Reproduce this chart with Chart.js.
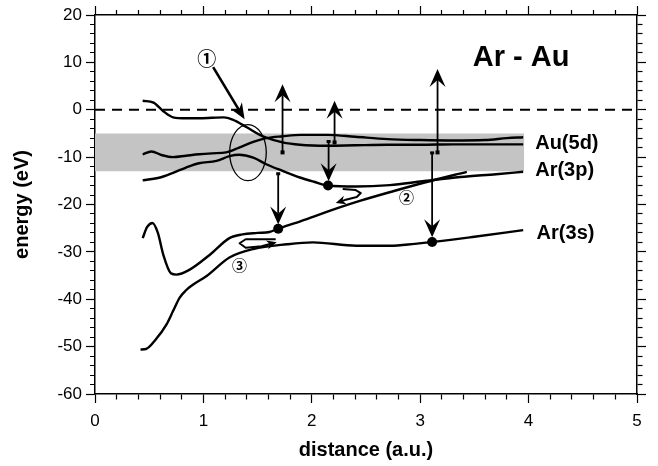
<!DOCTYPE html>
<html>
<head>
<meta charset="utf-8">
<script src="https://cdn.jsdelivr.net/npm/chart.js@4.4.0/dist/chart.umd.min.js"></script>
<style>
  html, body { margin: 0; padding: 0; background: #fff; }
  canvas { display: block; }
</style>
</head>
<body>
<canvas id="chart" width="658" height="466"></canvas>
<script>
// ── Axis ticks ───────────────────────────────────────
const xTickLabels = ['0', '1', '2', '3', '4', '5'];
const yTickLabels = ['-60', '-50', '-40', '-30', '-20', '-10', '0', '10', '20'];

// ── Au(5d) band and vacuum level ─────────────────────
const bandX      = [0, 3.96];
const bandTop    = [-5, -5];
const bandBottom = [-13, -13];
const zeroX = [0, 5];
const zeroY = [0, 0];

// ── Level curves ─────────────────────────────────────
const curveAX = [0.44, 0.54, 0.63, 0.72, 0.84, 0.96, 1.08, 1.19, 1.27, 1.40, 1.52, 1.58, 1.73, 1.89, 2.15, 2.40, 2.70, 3.00, 3.30, 3.60, 3.95];
const curveAY = [1.9, 1.5, -0.3, -1.6, -1.8, -1.8, -1.7, -1.6, -2.1, -3.7, -5.3, -5.9, -6.9, -7.4, -7.6, -7.5, -7.4, -7.4, -7.3, -7.3, -7.3];

const curveBX = [0.44, 0.52, 0.62, 0.72, 0.84, 0.96, 1.08, 1.21, 1.33, 1.46, 1.58, 1.73, 1.90, 2.15, 2.40, 2.70, 3.00, 3.30, 3.60, 3.80, 3.95];
const curveBY = [-9.4, -8.8, -9.6, -10.0, -9.7, -9.4, -9.2, -9.0, -8.0, -6.8, -6.0, -5.6, -5.3, -5.3, -5.7, -6.2, -6.4, -6.5, -6.4, -6.0, -5.8];

const curveCX = [0.44, 0.60, 0.72, 0.84, 0.96, 1.12, 1.24, 1.33, 1.46, 1.58, 1.73, 1.89, 2.02, 2.15, 2.41, 2.72, 3.02, 3.37, 3.70, 3.95];
const curveCY = [-14.9, -14.3, -13.3, -12.2, -11.3, -10.8, -9.8, -9.5, -10.1, -11.5, -12.9, -14.3, -15.2, -16.0, -16.2, -15.9, -15.1, -14.2, -13.6, -13.1];

const curveDX = [0.44, 0.48, 0.53, 0.58, 0.63, 0.70, 0.75, 0.87, 1.06, 1.24, 1.36, 1.50, 1.61, 1.69, 1.90, 2.17, 2.45, 2.75, 3.05, 3.43];
const curveDY = [-27.1, -24.8, -23.9, -26.0, -30.6, -34.5, -34.8, -33.8, -30.6, -27.1, -26.3, -26.0, -25.8, -25.1, -23.5, -21.3, -19.2, -17.2, -15.3, -13.1];

const curveFX = [0.42, 0.47, 0.56, 0.66, 0.72, 0.78, 0.84, 0.90, 1.03, 1.24, 1.46, 1.77, 2.01, 2.41, 2.72, 2.95, 3.12, 3.50, 3.95];
const curveFY = [-50.6, -50.5, -48.5, -45.3, -42.5, -39.7, -38.1, -37.0, -35.1, -31.2, -29.4, -28.4, -28.0, -28.7, -28.7, -28.3, -27.9, -26.8, -25.4];

const dotX = [1.69, 2.15, 3.11];
const dotY = [-25.1, -16.0, -27.9];

// ── Transitions and annotations ──────────────────────
const upX    = [1.73, 2.21, 3.16];
const upFrom = [-9.0, -6.9, -9.0];
const upTo   = [5.4, 1.9, 8.6];
const downX    = [1.69, 2.155, 3.11];
const downFrom = [-13.4, -6.6, -9.0];
const downTo   = [-24.2, -15.1, -26.9];

const arrow1X = [1.09, 1.38];
const arrow1Y = [9.0, -2.0];
const hook2X = [2.285, 2.405, 2.452, 2.415, 2.304, 2.221];
const hook2Y = [-16.74, -16.95, -17.58, -18.43, -19.07, -19.70];
const loop3X = [1.667, 1.39, 1.334, 1.39, 1.537, 1.676];
const loop3Y = [-27.33, -27.33, -28.18, -29.13, -28.81, -27.97];

const ellipseC = [1.411, -9.05];
const ellipseR = [0.169, 5.93];

const markTexts = ['①', '②', '③'];
const markX = [1.032, 2.874, 1.334];
const markY = [10.74, -18.58, -32.8];

const levelTexts = ['Au(5d)', 'Ar(3p)', 'Ar(3s)'];
const levelX = [4.061, 4.061, 4.074];
const levelY = [-8.33, -13.98, -27.33];
const titleText = 'Ar - Au';
const titleX = 3.485;
const titleY = 9.32;

const FONT = '"Liberation Sans", Arial, Helvetica, sans-serif';

const pts = (xs, ys) => xs.map((x, i) => ({ x, y: ys[i] }));

function curve(xs, ys) {
  return {
    data: pts(xs, ys),
    borderColor: '#000',
    borderWidth: 2.4,
    pointRadius: 0,
    cubicInterpolationMode: 'monotone',
    fill: false,
    order: 1,
  };
}

const near = (v, step) => Math.abs(v / step - Math.round(v / step)) < 1e-6;

// minor ticks: shorter stroke via dash; outerFirst when canvas draws from the outside in
function tickDash(step, outerFirst) {
  return ctx => near(ctx.tick.value, step) ? [] : (outerFirst ? [0, 4, 5, 100] : [5, 100]);
}

function axisBase(min, max, step, major, position, outerFirst, fit) {
  return {
    type: 'linear',
    position,
    min, max,
    grid: {
      drawOnChartArea: false,
      drawTicks: true,
      tickLength: 9,
      tickColor: '#000',
      tickWidth: 1.2,
      tickBorderDash: tickDash(major, outerFirst),
    },
    border: { display: true, color: '#000', width: 1.5 },
    ticks: { stepSize: step, autoSkip: false, maxRotation: 0, display: false },
    afterFit: fit,
  };
}

// ── Drawn marks on top of the datasets ───────────────
function head(ctx, tx, ty, ang, len, hw, inset) {
  ctx.save();
  ctx.translate(tx, ty);
  ctx.rotate(ang);
  ctx.beginPath();
  ctx.moveTo(0, 0);
  ctx.lineTo(-len, -hw);
  ctx.lineTo(-len + inset, 0);
  ctx.lineTo(-len, hw);
  ctx.closePath();
  ctx.fill();
  ctx.restore();
}

function arrowLine(ctx, x1, y1, x2, y2, len, hw, inset) {
  const ang = Math.atan2(y2 - y1, x2 - x1);
  const d = len - inset;
  ctx.beginPath();
  ctx.moveTo(x1, y1);
  ctx.lineTo(x2 - Math.cos(ang) * d, y2 - Math.sin(ang) * d);
  ctx.stroke();
  head(ctx, x2, y2, ang, len, hw, inset);
}

const sketchMarks = {
  id: 'sketchMarks',
  afterDatasetsDraw(chart) {
    const { ctx } = chart;
    const X = v => chart.scales.x.getPixelForValue(v);
    const Y = v => chart.scales.y.getPixelForValue(v);
    ctx.save();
    ctx.strokeStyle = '#000';
    ctx.fillStyle = '#000';
    ctx.lineCap = 'butt';
    ctx.lineJoin = 'round';

    // vertical transitions
    ctx.lineWidth = 1.8;
    upX.forEach((x, i) => {
      arrowLine(ctx, X(x), Y(upFrom[i]), X(x), Y(upTo[i]), 18, 8, 7);
      ctx.fillRect(X(x) - 2, Y(upFrom[i]) - 2, 4, 4);
    });
    downX.forEach((x, i) => {
      arrowLine(ctx, X(x), Y(downFrom[i]), X(x), Y(downTo[i]), 18, 8, 7);
      ctx.fillRect(X(x) - 2, Y(downFrom[i]) - 1, 4, 3);
    });

    // ① arrow
    ctx.lineWidth = 2.6;
    arrowLine(ctx, X(arrow1X[0]), Y(arrow1Y[0]), X(arrow1X[1]), Y(arrow1Y[1]), 16, 6.5, 5);

    // ② hook and ③ loop
    ctx.lineWidth = 2;
    [[hook2X, hook2Y], [loop3X, loop3Y]].forEach(([xs, ys]) => {
      const n = xs.length;
      ctx.beginPath();
      ctx.moveTo(X(xs[0]), Y(ys[0]));
      for (let i = 1; i < n - 1; i++) ctx.lineTo(X(xs[i]), Y(ys[i]));
      const ang = Math.atan2(Y(ys[n - 1]) - Y(ys[n - 2]), X(xs[n - 1]) - X(xs[n - 2]));
      ctx.lineTo(X(xs[n - 1]) - Math.cos(ang) * 5, Y(ys[n - 1]) - Math.sin(ang) * 5);
      ctx.stroke();
      head(ctx, X(xs[n - 1]), Y(ys[n - 1]), ang, 10, 4.5, 3);
    });

    // avoided-crossing ellipse
    ctx.lineWidth = 1.3;
    const cx = X(ellipseC[0]), cy = Y(ellipseC[1]);
    ctx.beginPath();
    ctx.ellipse(cx, cy, X(ellipseC[0] + ellipseR[0]) - cx, Y(ellipseC[1] - ellipseR[1]) - cy, 0, 0, Math.PI * 2);
    ctx.stroke();

    // circled numbers
    ctx.textAlign = 'center';
    ctx.textBaseline = 'middle';
    markTexts.forEach((t, i) => {
      ctx.font = 'bold ' + (i === 0 ? '19px' : '15px') + ' "Noto Sans CJK JP", "DejaVu Sans", sans-serif';
      ctx.fillText(t, X(markX[i]), Y(markY[i]));
    });

    // level labels and title
    ctx.textAlign = 'left';
    ctx.textBaseline = 'alphabetic';
    ctx.font = 'bold 20px ' + FONT;
    levelTexts.forEach((t, i) => ctx.fillText(t, X(levelX[i]), Y(levelY[i])));
    ctx.font = 'bold 29px ' + FONT;
    ctx.fillText(titleText, X(titleX), Y(titleY));
    ctx.restore();
  }
};

const xAxis = axisBase(0, 5, 0.2, 1, 'bottom', false, s => { s.height = 72; });
xAxis.ticks = {
  stepSize: 0.2, autoSkip: false, maxRotation: 0, padding: 8,
  color: '#000', font: { family: FONT, size: 17 },
  callback: v => near(v, 1) ? xTickLabels[Math.round(v)] : '',
};
xAxis.title = {
  display: true, text: 'distance (a.u.)', color: '#000',
  font: { family: FONT, size: 20, weight: 'bold' }, padding: { bottom: 4 },
};

const yAxis = axisBase(-60, 20, 2, 10, 'left', true, s => { s.width = 95; });
yAxis.ticks = {
  stepSize: 2, autoSkip: false, padding: 4,
  color: '#000', font: { family: FONT, size: 17 },
  callback: v => near(v, 10) ? yTickLabels[Math.round((v + 60) / 10)] : '',
};
yAxis.title = {
  display: true, text: 'energy (eV)', color: '#000',
  font: { family: FONT, size: 20, weight: 'bold' }, padding: { top: 10 },
};

const x2Axis = axisBase(0, 5, 0.2, 1, 'top', true, s => { s.height = 15; });
const y2Axis = axisBase(-60, 20, 2, 10, 'right', false, s => { s.width = 21; });

new Chart(document.getElementById('chart'), {
  type: 'line',
  data: {
    datasets: [
      { data: pts(bandX, bandTop), borderWidth: 0, pointRadius: 0, fill: '+1', backgroundColor: '#c4c4c4', borderColor: 'rgba(0,0,0,0)', order: 10 },
      { data: pts(bandX, bandBottom), borderWidth: 0, pointRadius: 0, fill: false, borderColor: 'rgba(0,0,0,0)', order: 10 },
      { data: pts(zeroX, zeroY), borderColor: '#000', borderWidth: 1.8, borderDash: [10, 7], pointRadius: 0, fill: false, order: 5 },
      curve(curveAX, curveAY),
      curve(curveBX, curveBY),
      curve(curveCX, curveCY),
      curve(curveDX, curveDY),
      curve(curveFX, curveFY),
      { data: pts(dotX, dotY), showLine: false, pointRadius: 5, pointBackgroundColor: '#000', pointBorderColor: '#000', pointBorderWidth: 0, order: 0 },
    ]
  },
  options: {
    responsive: false,
    animation: false,
    devicePixelRatio: 1,
    layout: { padding: 0 },
    plugins: { legend: { display: false }, tooltip: { enabled: false } },
    scales: { x: xAxis, y: yAxis, x2: x2Axis, y2: y2Axis },
  },
  plugins: [sketchMarks],
});
</script>
</body>
</html>
